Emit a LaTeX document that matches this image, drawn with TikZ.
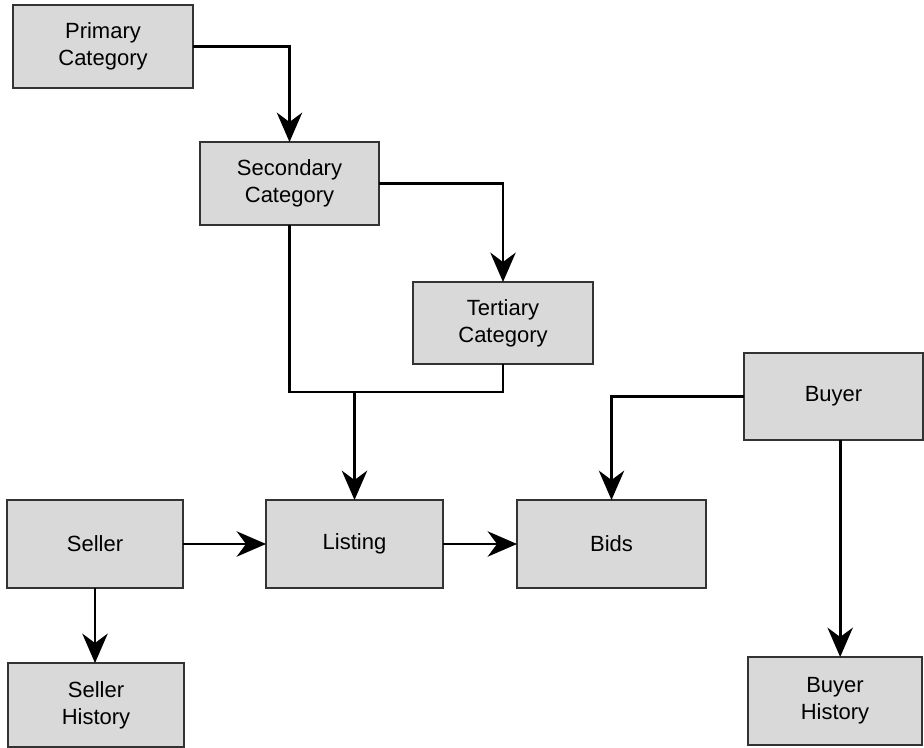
\documentclass[tikz,border=0pt]{standalone}
\usepackage{fontspec}
\setmainfont{Liberation Sans}
\usetikzlibrary{arrows.meta,calc}
\begin{document}
\begin{tikzpicture}[x=0.75pt,y=-0.75pt,
  box/.style={draw=black!80, line width=0.9pt, fill=boxgray, inner sep=0pt, outer sep=0pt,
    align=center, font=\fontsize{16.5pt}{20pt}\selectfont},
  conn/.style={line width=2pt, line join=miter},
  arr/.style={conn, -{Stealth[length=22pt,width=19pt,inset=7pt]}}]
\definecolor{boxgray}{HTML}{D9D9D9}
\useasboundingbox (0,0) rectangle (924,748);
\def\p#1{#1*0.75pt}
\node[box, minimum width=\p{180}, minimum height=\p{83}] (prim) at (103,46.5) {Primary\\Category};
\node[box, minimum width=\p{179}, minimum height=\p{83}] (sec) at (289.5,183.5) {Secondary\\Category};
\node[box, minimum width=\p{180}, minimum height=\p{82}] (ter) at (503,323) {Tertiary\\Category};
\node[box, minimum width=\p{179}, minimum height=\p{87}] (buyer) at (833.5,396.5) {Buyer};
\node[box, minimum width=\p{176}, minimum height=\p{88}] (seller) at (95,544) {Seller};
\node[box, minimum width=\p{177}, minimum height=\p{88}] (listing) at (354.5,544) {Listing};
\node[box, minimum width=\p{189}, minimum height=\p{88}] (bids) at (611.5,544) {Bids};
\node[box, minimum width=\p{176}, minimum height=\p{84}] (shist) at (96,705) {Seller\\History};
\node[box, minimum width=\p{174}, minimum height=\p{88}] (bhist) at (835,701) {Buyer\\History};
\coordinate (j) at (354.5,392);
\draw[arr] (prim.east) -| (sec.north);
\draw[arr] (sec.east) -| (ter.north);
\draw[conn] (sec.south) |- (j) -| (ter.south);
\draw[arr] (j) -- (listing.north);
\draw[arr] (seller.east) -- (listing.west);
\draw[arr] (listing.east) -- (bids.west);
\draw[arr] (buyer.west) -| (bids.north);
\draw[arr] ([xshift=5pt]buyer.south) -- ([xshift=5pt]buyer.south |- bhist.north);
\draw[arr] (seller.south) -- (seller.south |- shist.north);
\end{tikzpicture}
\end{document}
